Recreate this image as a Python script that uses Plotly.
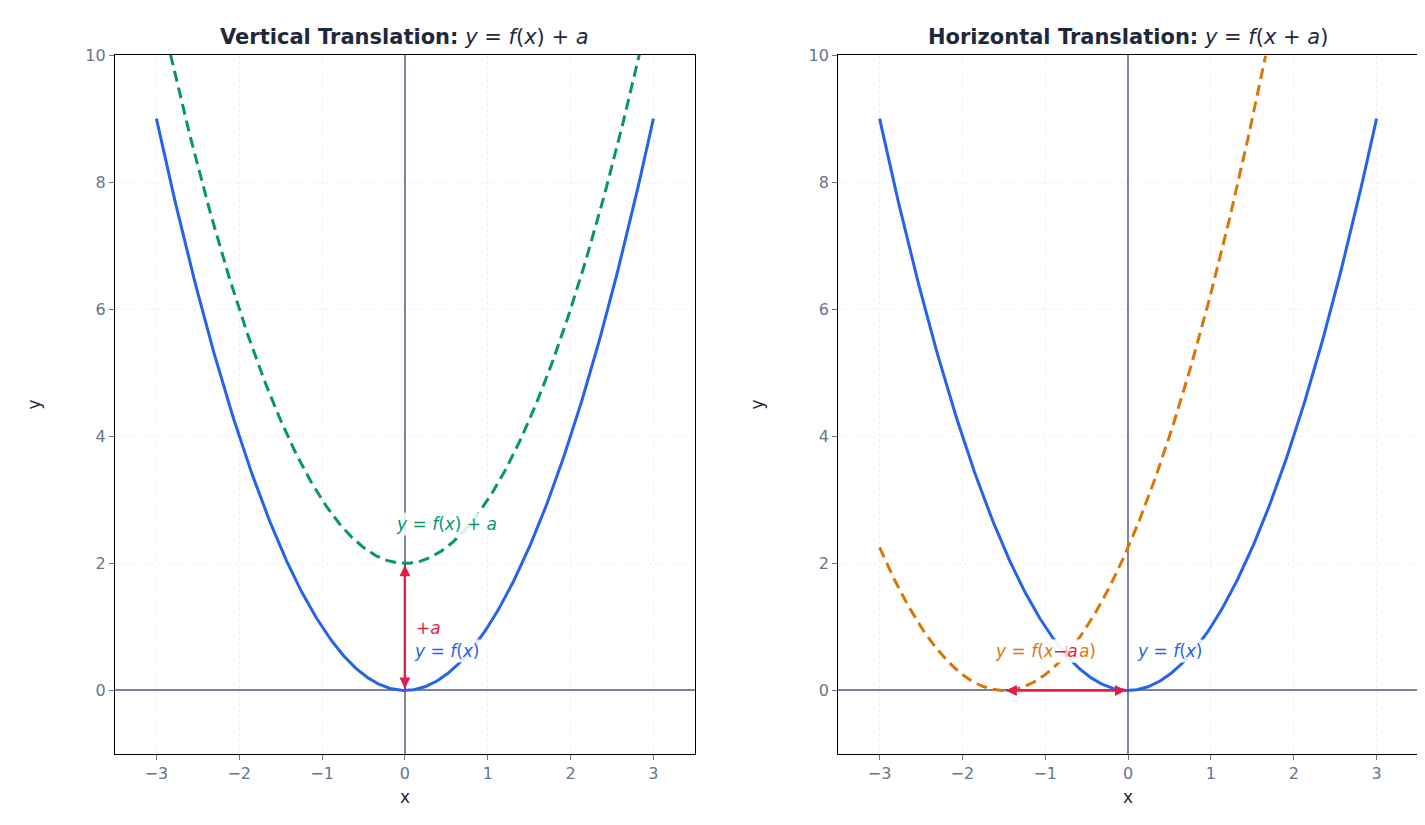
import numpy as np
import plotly.graph_objects as go

x_base = np.linspace(-3, 3, 301)
a_shift = 2.0
h_shift = 1.5
x_vert = np.linspace(-2.83, 2.83, 301)
x_horiz = np.linspace(-3, 1.66, 301)

BLUE = "#2563eb"; GREEN = "#059669"; ORANGE = "#d97706"; RED = "#e11d48"
DARK = "#1e293b"; GRAY = "#64748b"
DASH = "11px,6px"

fig = go.Figure()
fig.add_trace(go.Scatter(x=x_base, y=x_base**2, mode="lines", line=dict(color=BLUE, width=3), xaxis="x", yaxis="y", showlegend=False))
fig.add_trace(go.Scatter(x=x_vert, y=x_vert**2 + a_shift, mode="lines", line=dict(color=GREEN, width=3, dash=DASH), xaxis="x", yaxis="y", showlegend=False))
fig.add_trace(go.Scatter(x=x_base, y=x_base**2, mode="lines", line=dict(color=BLUE, width=3), xaxis="x2", yaxis="y2", showlegend=False))
fig.add_trace(go.Scatter(x=x_horiz, y=(x_horiz + h_shift)**2, mode="lines", line=dict(color=ORANGE, width=3, dash=DASH), xaxis="x2", yaxis="y2", showlegend=False))

ax = dict(range=[-3.5, 3.5], tickvals=[-3,-2,-1,0,1,2,3], ticktext=["−3","−2","−1","0","1","2","3"],
          showline=True, mirror=True, linecolor="black", linewidth=1.2, ticks="outside", tickcolor=GRAY,
          tickfont=dict(size=16, color=GRAY), showgrid=True, gridcolor="#eef0f3", griddash="dot",
          zeroline=True, zerolinecolor="#7a8599", zerolinewidth=1.5, automargin=False,
          title=dict(text="x", font=dict(size=17, color=DARK), standoff=8))
ay = dict(range=[-1, 10], tickvals=[0,2,4,6,8,10],
          showline=True, mirror=True, linecolor="black", linewidth=1.2, ticks="outside", tickcolor=GRAY,
          tickfont=dict(size=16, color=GRAY), showgrid=True, gridcolor="#eef0f3", griddash="dot",
          zeroline=True, zerolinecolor="#7a8599", zerolinewidth=1.5, automargin=False,
          title=dict(text="y", font=dict(size=17, color=DARK), standoff=40))

fig.update_layout(
    width=1425, height=825, margin=dict(l=107, r=15, t=47, b=79),
    plot_bgcolor="white", paper_bgcolor="white",
    font=dict(family="DejaVu Sans"),
    xaxis=dict(ax, domain=[0.0, 0.445], anchor="y"),
    yaxis=dict(ay, domain=[0, 1], anchor="x"),
    xaxis2=dict(ax, domain=[0.555, 1.0], anchor="y2"),
    yaxis2=dict(ay, domain=[0, 1], anchor="x2"),
)

def lab(text, x, y, color, xr="x", yr="y", bg="rgba(255,255,255,0.85)"):
    fig.add_annotation(x=x, y=y, xref=xr, yref=yr, text=text, showarrow=False,
                       font=dict(size=17, color=color), bgcolor=bg)

def arrow(x0, y0, x1, y1, xr, yr):
    for (ax_, ay_, xx, yy) in [(x0, y0, x1, y1), (x1, y1, x0, y0)]:
        fig.add_annotation(x=xx, y=yy, ax=ax_, ay=ay_, xref=xr, yref=yr, axref=xr, ayref=yr,
                           showarrow=True, arrowhead=2, arrowsize=1, arrowwidth=2.2, arrowcolor=RED, text="", standoff=2)

arrow(0, 0, 0, a_shift, "x", "y")
arrow(0, 0, -h_shift, 0, "x2", "y2")

lab("<i>y</i> = <i>f</i>(<i>x</i>) + <i>a</i>", 0.5, 2.62, GREEN)
lab("+<i>a</i>", 0.28, 0.98, RED, bg="rgba(0,0,0,0)")
lab("<i>y</i> = <i>f</i>(<i>x</i>)", 0.5, 0.62, BLUE)
lab("<i>y</i> = <i>f</i>(<i>x</i> + <i>a</i>)", -1.0, 0.62, ORANGE, "x2", "y2")
lab("−<i>a</i>", -0.75, 0.62, RED, "x2", "y2", bg="rgba(255,255,255,0.5)")
lab("<i>y</i> = <i>f</i>(<i>x</i>)", 0.5, 0.62, BLUE, "x2", "y2")

fig.add_annotation(x=0.2225, y=1, xref="paper", yref="paper", xanchor="center", yanchor="bottom", yshift=4, showarrow=False,
                   text="<b>Vertical Translation:</b> <i>y</i> = <i>f</i>(<i>x</i>) + <i>a</i>", font=dict(size=21, color=DARK))
fig.add_annotation(x=0.7775, y=1, xref="paper", yref="paper", xanchor="center", yanchor="bottom", yshift=4, showarrow=False,
                   text="<b>Horizontal Translation:</b> <i>y</i> = <i>f</i>(<i>x</i> + <i>a</i>)", font=dict(size=21, color=DARK))

fig.write_html("out.html")
